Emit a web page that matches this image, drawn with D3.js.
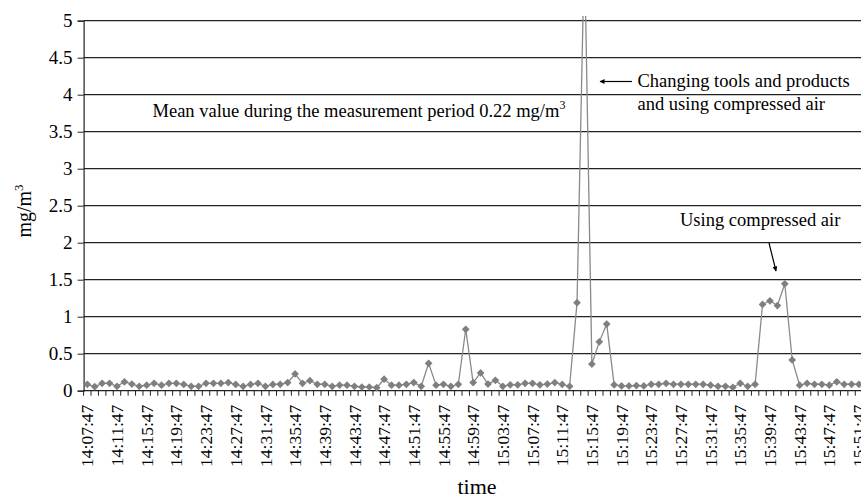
<!DOCTYPE html>
<html>
<head>
<meta charset="utf-8">
<script src="https://cdn.jsdelivr.net/npm/d3@7"></script>
<style>
  body { margin: 0; background: #fff; }
  svg { display: block; }
  text { font-family: 'Liberation Serif', 'DejaVu Serif', serif; fill: #000; }
</style>
</head>
<body>
<div class="visHolder"></div>
<script>
// one reading per minute, starting 14:07:47
var startTime = '14:07:47';
var values = [
    0.087, 0.054, 0.10, 0.10, 0.06, 0.12, 0.09, 0.06, 0.075, 0.10,
    0.075, 0.10, 0.10, 0.085, 0.06, 0.06, 0.10, 0.10, 0.10, 0.11,
    0.085, 0.06, 0.085, 0.10, 0.06, 0.085, 0.087, 0.11, 0.226, 0.10,
    0.135, 0.087, 0.087, 0.06, 0.075, 0.075, 0.06, 0.05, 0.05, 0.04,
    0.155, 0.075, 0.075, 0.087, 0.11, 0.06, 0.37, 0.075, 0.087, 0.06,
    0.087, 0.83, 0.11, 0.24, 0.09, 0.14, 0.06, 0.08, 0.08, 0.10,
    0.10, 0.08, 0.09, 0.11, 0.085, 0.06, 1.19, 6.0, 0.36, 0.66,
    0.90, 0.08, 0.065, 0.065, 0.07, 0.065, 0.087, 0.087, 0.10, 0.087,
    0.087, 0.087, 0.087, 0.087, 0.075, 0.06, 0.06, 0.045, 0.10, 0.06,
    0.087, 1.165, 1.215, 1.15, 1.445, 0.415, 0.075, 0.10, 0.087, 0.087,
    0.075, 0.12, 0.087, 0.087, 0.087
];
var yTicks = [0, 0.5, 1, 1.5, 2, 2.5, 3, 3.5, 4, 4.5, 5];
var labelEvery = 4;

var serif = "'Liberation Serif', 'DejaVu Serif', serif";

var parseTime = d3.timeParse('%H:%M:%S'),
    formatTime = d3.timeFormat('%H:%M:%S');
var t0 = parseTime(startTime);
var categories = values.map(function (d, i) {
    return formatTime(d3.timeMinute.offset(t0, i));
});

var width = 861,
    height = 498,
    plotLeft = 83.6,
    plotTop = 20.7,
    plotBottom = 390.7,
    step = 7.42;

var svg = d3
    .select('.visHolder')
    .append('svg')
    .attr('width', width)
    .attr('height', height)
    .attr('font-family', serif);

var xScale = d3
    .scaleBand()
    .domain(categories)
    .range([plotLeft, plotLeft + step * categories.length])
    .padding(0);

var yScale = d3.scaleLinear().domain([0, 5]).range([plotBottom, plotTop]);

function cx(d, i) {
    return xScale(categories[i]) + xScale.bandwidth() / 2;
}

// grid lines
svg.append('g')
    .selectAll('line')
    .data(yTicks.slice(1))
    .enter()
    .append('line')
    .attr('x1', plotLeft)
    .attr('x2', width)
    .attr('y1', function (d) { return yScale(d); })
    .attr('y2', function (d) { return yScale(d); })
    .attr('stroke', '#222')
    .attr('stroke-width', 1.2);

// y axis
var yAxis = d3.axisLeft(yScale)
    .tickValues(yTicks)
    .tickSize(6)
    .tickPadding(5)
    .tickFormat(d3.format('~g'));

var gy = svg.append('g')
    .attr('transform', 'translate(' + plotLeft + ',0)')
    .call(yAxis)
    .attr('font-family', serif)
    .attr('font-size', 19);
gy.select('.domain').attr('stroke', '#222').attr('stroke-width', 1.2);
gy.selectAll('.tick line').attr('stroke', '#222');
gy.selectAll('.tick text').style('font-family', serif).style('font-size', '19px');

// x axis: ticks between categories, labels every 4 minutes
var gx = svg.append('g')
    .attr('transform', 'translate(0,' + plotBottom + ')');

gx.append('line')
    .attr('x1', plotLeft)
    .attr('x2', width)
    .attr('stroke', '#222')
    .attr('stroke-width', 1.2);

gx.selectAll('.cat-tick')
    .data(categories.concat(['end']))
    .enter()
    .append('line')
    .attr('class', 'cat-tick')
    .attr('x1', function (d, i) { return plotLeft + i * xScale.step(); })
    .attr('x2', function (d, i) { return plotLeft + i * xScale.step(); })
    .attr('y1', 0)
    .attr('y2', 5)
    .attr('stroke', '#222');

var xAxis = d3.axisBottom(xScale)
    .tickValues(categories.filter(function (d, i) { return i % labelEvery === 0; }))
    .tickSize(0)
    .tickPadding(0);

var gl = svg.append('g')
    .attr('transform', 'translate(0,' + plotBottom + ')')
    .call(xAxis)
    .attr('font-family', serif)
    .attr('font-size', 17.5);
gl.select('.domain').remove();
gl.selectAll('.tick text')
    .style('font-family', serif)
    .style('font-size', '17.5px')
    .attr('transform', 'rotate(-90)')
    .attr('text-anchor', 'end')
    .attr('x', -14)
    .attr('y', 0)
    .attr('dy', '0.35em');

// series (the 15:14 peak runs off the top of the plot)
svg.append('clipPath')
    .attr('id', 'plot-clip')
    .append('rect')
    .attr('x', 0)
    .attr('y', 16)
    .attr('width', width)
    .attr('height', height);

var series = svg.append('g').attr('clip-path', 'url(#plot-clip)');

var line = d3.line()
    .x(cx)
    .y(function (d) { return yScale(d); });

series.append('path')
    .datum(values)
    .attr('fill', 'none')
    .attr('stroke', '#8a8a8a')
    .attr('stroke-width', 1.3)
    .attr('d', line);

var diamond = d3.symbol().type(d3.symbolSquare).size(30);

series.selectAll('.pt')
    .data(values)
    .enter()
    .append('path')
    .attr('class', 'pt')
    .attr('d', diamond)
    .attr('transform', function (d, i) {
        return 'translate(' + cx(d, i) + ',' + yScale(d) + ') rotate(45)';
    })
    .attr('fill', '#7f7f7f');

// axis titles
svg.append('text')
    .attr('transform', 'translate(31,211) rotate(-90)')
    .attr('text-anchor', 'middle')
    .style('font-size', '20px')
    .html('mg/m<tspan dy="-8" font-size="13px">3</tspan>');

svg.append('text')
    .attr('x', 477)
    .attr('y', 494)
    .attr('text-anchor', 'middle')
    .style('font-size', '22px')
    .text('time');

// annotations
svg.append('defs')
    .append('marker')
    .attr('id', 'arrow')
    .attr('viewBox', '0 0 10 10')
    .attr('refX', 9)
    .attr('refY', 5)
    .attr('markerWidth', 8)
    .attr('markerHeight', 5)
    .attr('markerUnits', 'userSpaceOnUse')
    .attr('orient', 'auto')
    .append('path')
    .attr('d', 'M0,0 L10,5 L0,10 z')
    .attr('fill', '#000');

svg.append('text')
    .attr('x', 152.5)
    .attr('y', 117)
    .style('font-size', '18.5px')
    .html('Mean value during the measurement period 0.22 mg/m<tspan dy="-8" font-size="12px">3</tspan>');

var note1 = svg.append('text')
    .attr('x', 637.5)
    .attr('y', 87)
    .style('font-size', '18.5px');
note1.append('tspan').text('Changing tools and products');
note1.append('tspan').attr('x', 637.5).attr('dy', 23).text('and using compressed air');

svg.append('line')
    .attr('x1', 632)
    .attr('y1', 81.5)
    .attr('x2', 600)
    .attr('y2', 81.5)
    .attr('stroke', '#000')
    .attr('stroke-width', 1.2)
    .attr('marker-end', 'url(#arrow)');

svg.append('text')
    .attr('x', 680)
    .attr('y', 226)
    .style('font-size', '18.5px')
    .text('Using compressed air');

svg.append('line')
    .attr('x1', 769)
    .attr('y1', 243)
    .attr('x2', 776)
    .attr('y2', 271)
    .attr('stroke', '#000')
    .attr('stroke-width', 1.2)
    .attr('marker-end', 'url(#arrow)');
</script>
</body>
</html>
